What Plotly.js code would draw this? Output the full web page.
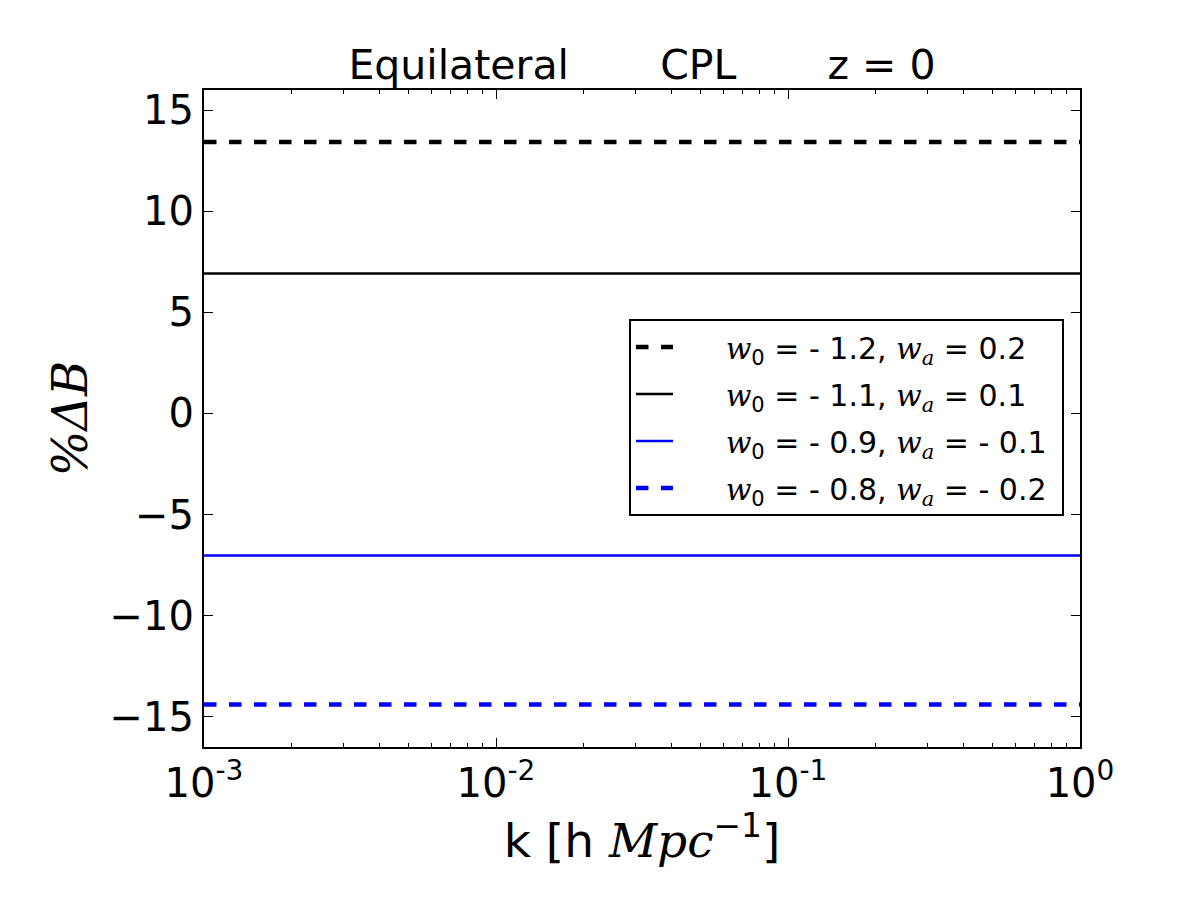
<!DOCTYPE html>
<html>
<head>
<meta charset="utf-8">
<script src="https://cdn.plot.ly/plotly-3.0.1.min.js"></script>
<style>html,body{margin:0;padding:0;background:#fff;}#chart{width:1200px;height:900px;}</style>
</head>
<body>
<div id="chart"></div>
<script>
// k values (log scale), endpoints of the constant curves
const kValues = [0.001, 1.0];
// legend labels: w0 and wa parameter values
const w0Values = ['- 1.2', '- 1.1', '- 0.9', '- 0.8'];
const waValues = ['0.2', '0.1', '- 0.1', '- 0.2'];
// %ΔB values for each model (constant across k)
const deltaB_w12 = [13.43, 13.43];
const deltaB_w11 = [6.92, 6.92];
const deltaB_w09 = [-7.03, -7.03];
const deltaB_w08 = [-14.4, -14.4];
const xTickVals = [0.001, 0.01, 0.1, 1];
const xTickText = ['10<sup>-3</sup>', '10<sup>-2</sup>', '10<sup>-1</sup>', '10<sup>0</sup>'];
const xMinorTickVals = [
  0.002, 0.003, 0.004, 0.005, 0.006, 0.007, 0.008, 0.009,
  0.02, 0.03, 0.04, 0.05, 0.06, 0.07, 0.08, 0.09,
  0.2, 0.3, 0.4, 0.5, 0.6, 0.7, 0.8, 0.9
];
const yTickVals = [-15, -10, -5, 0, 5, 10, 15];
const yTickText = ['\u221215', '\u221210', '\u22125', '0', '5', '10', '15'];

const seriesValues = [deltaB_w12, deltaB_w11, deltaB_w09, deltaB_w08];
const styles = [
  {color: '#000000', width: 4.5, dash: '12.5px,12.5px'},
  {color: '#000000', width: 2.5, dash: 'solid'},
  {color: '#0000ff', width: 2.5, dash: 'solid'},
  {color: '#0000ff', width: 4.5, dash: '12.5px,12.5px'}
];

const W = '<span style="font-family:\'DejaVu Serif\',serif;font-style:italic">w</span>';
const SUBA = '<sub><span style="font-family:\'DejaVu Serif\',serif;font-style:italic">a</span></sub>';
const PAD = '\u00A0\u00A0\u00A0\u00A0\u00A0';
const legendLabels = w0Values.map((w0, i) =>
  PAD + W + '<sub>0</sub> = ' + w0 + ', ' + W + SUBA + ' = ' + waValues[i] + '\u00A0'
);

const traces = seriesValues.map((vals, i) => ({
  x: kValues,
  y: vals,
  type: 'scatter',
  mode: 'lines',
  name: legendLabels[i],
  legendgroup: 'g' + i,
  line: styles[i]
}));

const font = "'DejaVu Sans', sans-serif";
const NB = '\u00A0\u00A0\u00A0\u00A0\u00A0\u00A0\u00A0';
const layout = {
  width: 1200,
  height: 900,
  paper_bgcolor: '#ffffff',
  plot_bgcolor: '#ffffff',
  margin: {l: 204, r: 120, t: 90, b: 153},
  showlegend: true,
  font: {family: font, color: '#000'},
  title: {
    text: 'Equilateral' + NB + 'CPL' + NB + 'z = 0',
    font: {family: font, size: 41, color: '#000'},
    x: 0.5, xanchor: 'center', xref: 'paper',
    y: 0.928, yanchor: 'middle', yref: 'container'
  },
  xaxis: {
    type: 'log',
    range: [-3, 0],
    tickvals: xTickVals,
    ticktext: xTickText,
    tickfont: {family: font, size: 40, color: '#000'},
    ticks: 'inside',
    ticklen: 9,
    tickwidth: 1,
    tickcolor: '#000',
    mirror: 'ticks',
    showline: true,
    linecolor: '#000',
    linewidth: 2,
    showgrid: false,
    zeroline: false,
    minor: {tickmode: 'array', tickvals: xMinorTickVals, ticks: 'inside', ticklen: 4, tickwidth: 1, tickcolor: '#000', showgrid: false},
    title: {
      text: 'k [h <span style="font-family:\'DejaVu Serif\',serif;font-style:italic">Mpc</span><sup>\u22121</sup>]',
      font: {family: font, size: 47, color: '#000'},
      standoff: 10
    }
  },
  yaxis: {
    range: [-16.5, 16],
    tickvals: yTickVals,
    ticktext: yTickText,
    tickfont: {family: font, size: 40, color: '#000'},
    ticks: 'inside',
    ticklen: 9,
    tickwidth: 1,
    tickcolor: '#000',
    mirror: 'ticks',
    showline: true,
    linecolor: '#000',
    linewidth: 2,
    showgrid: false,
    zeroline: false,
    title: {
      text: '<span style="font-family:\'DejaVu Serif\',serif;font-style:italic">%ΔB</span>',
      font: {family: "'DejaVu Serif', serif", size: 48, color: '#000'},
      standoff: 7
    }
  },
  legend: {
    x: 0.9817, xanchor: 'right',
    y: 0.6515, yanchor: 'top',
    bgcolor: '#ffffff',
    bordercolor: '#000',
    borderwidth: 2,
    font: {family: font, size: 30, color: '#000'},
    tracegroupgap: 5,
    itemwidth: 37
  }
};

Plotly.newPlot('chart', traces, layout, {displayModeBar: false, staticPlot: true});
</script>
</body>
</html>
